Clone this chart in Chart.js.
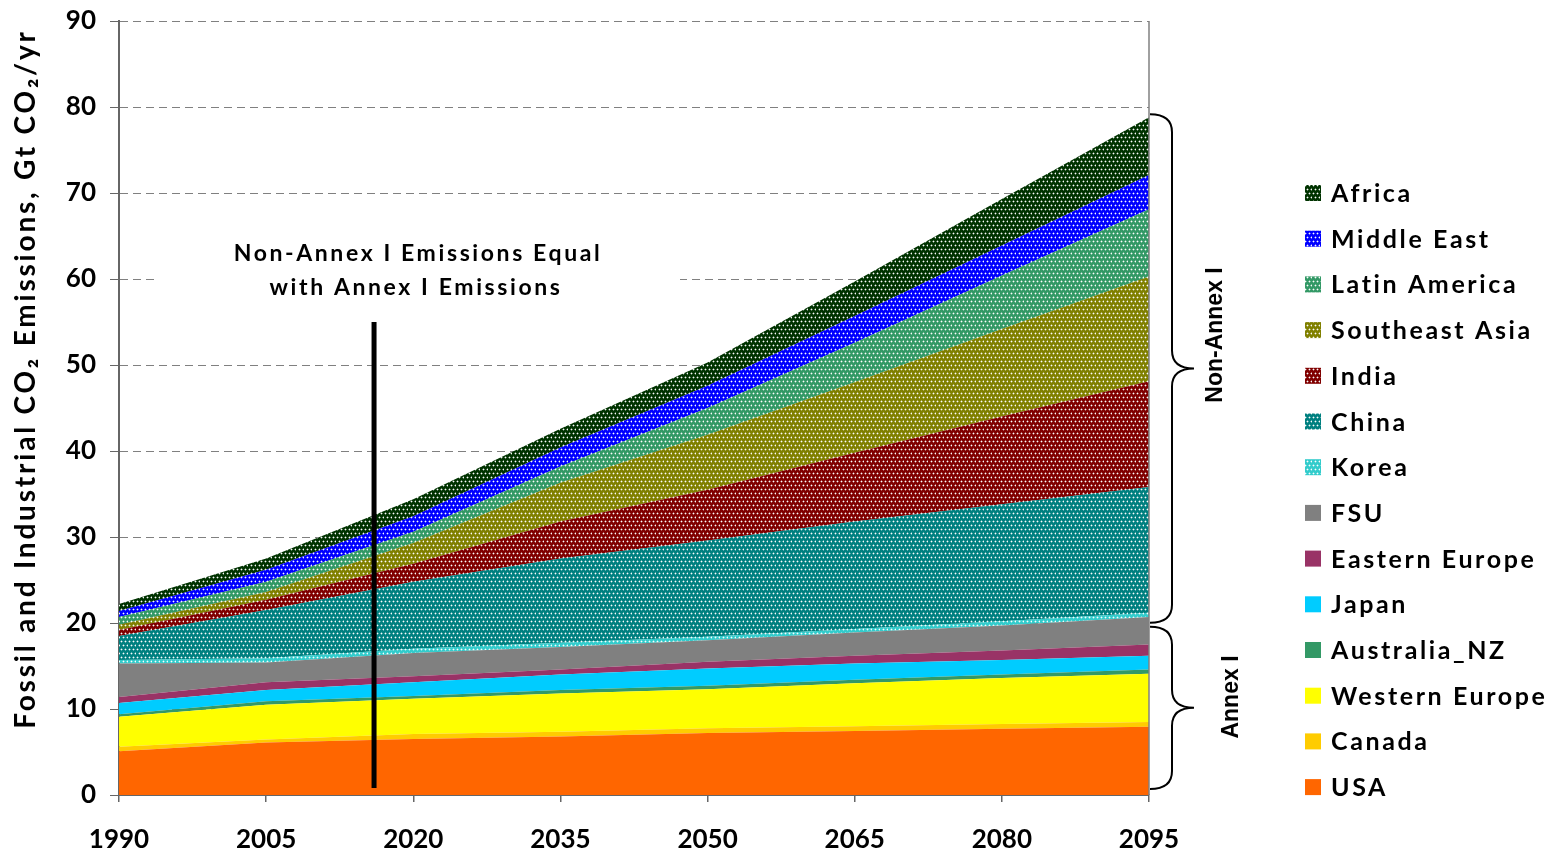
<!DOCTYPE html>
<html><head><meta charset="utf-8">
<script src="https://cdn.jsdelivr.net/npm/chart.js@4.4.1/dist/chart.umd.min.js"></script>
<style>html,body{margin:0;padding:0;background:#fff;overflow:hidden}#wrap{width:1556px;height:855px}</style>
</head><body><div id="wrap"><canvas id="c" width="1556" height="855"></canvas></div>
<script>
// ---------- DATA ----------
const years = [1990, 2005, 2020, 2035, 2050, 2065, 2080, 2095];
const seriesNames = ['USA','Canada','Western Europe','Australia_NZ','Japan','Eastern Europe','FSU','Korea','China','India','Southeast Asia','Latin America','Middle East','Africa'];
const usa          = [5.1, 6.1, 6.5, 6.8, 7.2, 7.45, 7.7, 7.95];
const canada       = [0.5, 0.35, 0.6, 0.55, 0.55, 0.55, 0.55, 0.55];
const westernEurope= [3.5, 4.05, 4.1, 4.45, 4.55, 5.0, 5.35, 5.6];
const australiaNZ  = [0.3, 0.4, 0.3, 0.4, 0.4, 0.4, 0.4, 0.5];
const japan        = [1.3, 1.3, 1.6, 1.8, 2.0, 1.9, 1.7, 1.6];
const easternEurope= [0.7, 0.9, 0.7, 0.6, 0.8, 0.9, 1.1, 1.3];
const fsu          = [3.9, 2.3, 2.7, 2.6, 2.5, 2.7, 2.9, 3.2];
const korea        = [0.4, 0.5, 0.5, 0.5, 0.4, 0.4, 0.5, 0.5];
const china        = [2.8, 5.6, 7.8, 9.8, 11.2, 12.5, 13.6, 14.6];
const india        = [0.7, 1.2, 2.1, 4.3, 5.9, 8.0, 10.2, 12.3];
const southeastAsia= [0.6, 0.9, 2.4, 4.5, 6.4, 8.2, 10.2, 12.2];
const latinAmerica = [0.9, 1.2, 1.3, 1.9, 3.1, 4.6, 6.2, 7.8];
const middleEast   = [0.7, 1.4, 1.8, 2.2, 2.6, 3.1, 3.5, 4.0];
const africa       = [0.8, 1.3, 2.0, 2.2, 2.7, 4.0, 5.4, 6.7];
const seriesValues = [usa, canada, westernEurope, australiaNZ, japan, easternEurope, fsu, korea, china, india, southeastAsia, latinAmerica, middleEast, africa];
const yTickValues = [0, 10, 20, 30, 40, 50, 60, 70, 80, 90];
const xTickValues = [1990, 2005, 2020, 2035, 2050, 2065, 2080, 2095];
const equalYear = 2016;          // year of the marker line
const markerTop = 55, markerBottom = 0.8;
const annotationLines = ['Non-Annex I Emissions Equal', 'with Annex I Emissions'];
const yTitle = 'Fossil and Industrial CO\u2082 Emissions, Gt CO\u2082/yr';

// ---------- STYLE ----------
const colors = ['#FF6600','#FFCC00','#FFFF00','#339966','#00CCFF','#993366','#808080','#33CCCC','#008080','#800000','#808000','#339966','#0000FF','#003300'];
const dotted = [false,false,false,false,false,false,false,true,true,true,true,true,true,true];
const FONT = "Lato, 'DejaVu Sans', sans-serif";

const canvas = document.getElementById('c');
const ctx = canvas.getContext('2d');
function dotPattern(color){
  const t = document.createElement('canvas'); t.width = 8; t.height = 8;
  const g = t.getContext('2d');
  g.fillStyle = color; g.fillRect(0,0,8,8);
  const pts = [[1,1],[5,1],[3,5],[7,5]];
  g.fillStyle = 'rgba(255,255,255,0.35)';
  pts.forEach(([x,y])=>{g.fillRect(x-1,y,3,1);g.fillRect(x,y-1,1,3);});
  g.fillStyle = 'rgba(255,255,255,0.95)';
  pts.forEach(([x,y])=>g.fillRect(x,y,1,1));
  return ctx.createPattern(t,'repeat');
}
const fills = colors.map((c,i)=> dotted[i] ? dotPattern(c) : c);

const datasets = seriesNames.map((name,i)=>({
  label: name,
  data: years.map((yr,k)=>({x: yr, y: seriesValues[i][k]})),
  backgroundColor: fills[i],
  borderColor: 'rgba(0,0,0,0)',
  borderWidth: 0,
  pointRadius: 0,
  fill: i === 0 ? 'origin' : '-1',
  tension: 0
}));

function cum(k, upto){ let s=0; for(let i=0;i<=upto;i++) s+=seriesValues[i][k]; return s; }

const overlay = {
  id: 'overlay',
  beforeDatasetsDraw(chart){
    const {ctx} = chart;
    ctx.save(); ctx.fillStyle = '#fff'; ctx.fillRect(156, 228, 524, 84); ctx.restore();
  },
  afterDraw(chart){
    const {ctx, chartArea:a, scales:{x, y}} = chart;
    ctx.save();
    // right border
    ctx.strokeStyle = '#808080'; ctx.lineWidth = 1.5;
    ctx.beginPath(); ctx.moveTo(a.right, a.top); ctx.lineTo(a.right, a.bottom); ctx.stroke();
    // annotation text
    ctx.fillStyle = '#000'; ctx.textAlign = 'center'; ctx.textBaseline = 'middle';
    ctx.font = 'bold 23px ' + FONT; ctx.letterSpacing = '2.6px';
    ctx.fillText(annotationLines[0], 418, 254);
    ctx.fillText(annotationLines[1], 416, 288);
    ctx.letterSpacing = '0px';
    // marker line
    ctx.strokeStyle = '#000'; ctx.lineWidth = 5;
    const mx = x.getPixelForValue(equalYear);
    ctx.beginPath(); ctx.moveTo(mx, y.getPixelForValue(markerTop)); ctx.lineTo(mx, y.getPixelForValue(markerBottom)); ctx.stroke();
    // braces
    const last = years.length - 1;
    const totalTop = y.getPixelForValue(cum(last, seriesValues.length-1));
    const annexTop = y.getPixelForValue(cum(last, 7));
    const annexBot = y.getPixelForValue(0.7);
    function brace(x0, y1, y2, w){
      const ym = (y1+y2)/2, r = 18, xm = x0 + w/2;
      ctx.beginPath();
      ctx.moveTo(x0, y1);
      ctx.quadraticCurveTo(xm, y1, xm, y1 + r);
      ctx.lineTo(xm, ym - r);
      ctx.quadraticCurveTo(xm, ym, x0 + w, ym);
      ctx.quadraticCurveTo(xm, ym, xm, ym + r);
      ctx.lineTo(xm, y2 - r);
      ctx.quadraticCurveTo(xm, y2, x0, y2);
      ctx.stroke();
    }
    ctx.strokeStyle = '#000'; ctx.lineWidth = 2;
    brace(a.right + 1, totalTop - 3, annexTop + 10, 44);
    brace(a.right + 1, annexTop + 14, annexBot, 44);
    // brace labels
    ctx.font = "bold 23px 'Liberation Sans', Arial, sans-serif";
    ctx.textAlign = 'center'; ctx.textBaseline = 'middle';
    ctx.save(); ctx.translate(1216, 335); ctx.rotate(-Math.PI/2); ctx.fillText('Non-Annex I', 0, 0); ctx.restore();
    ctx.save(); ctx.translate(1232, 697); ctx.rotate(-Math.PI/2); ctx.fillText('Annex I', 0, 0); ctx.restore();
    // y title
    ctx.font = 'bold 28px ' + FONT; ctx.letterSpacing = '2.8px';
    ctx.save(); ctx.translate(26, 379); ctx.rotate(-Math.PI/2); ctx.fillText(yTitle, 0, 0); ctx.restore();
    // legend
    ctx.font = 'bold 25px ' + FONT; ctx.letterSpacing = '2.6px';
    ctx.textAlign = 'left';
    const n = seriesNames.length;
    for (let k = 0; k < n; k++){
      const i = n - 1 - k;
      const yc = 193 + k * 45.7;
      ctx.fillStyle = fills[i];
      ctx.fillRect(1305, yc - 8, 16, 16);
      ctx.fillStyle = '#000';
      ctx.fillText(seriesNames[i], 1331, yc + 1);
    }
    ctx.restore();
  }
};

new Chart(canvas, {
  type: 'line',
  data: { datasets },
  options: {
    responsive: false, animation: false, devicePixelRatio: 1,
    layout: { padding: { left: 0, right: 407, top: 21, bottom: 0 } },
    plugins: { legend: { display: false }, tooltip: { enabled: false } },
    elements: { line: { borderWidth: 0 } },
    scales: {
      x: {
        type: 'linear', min: 1990, max: 2095,
        afterBuildTicks: s => { s.ticks = xTickValues.map(v => ({value: v})); },
        ticks: { callback: v => String(v), color: '#000', font: { family: FONT, size: 26, weight: 'bold' }, padding: 22, maxRotation: 0 },
        grid: { drawOnChartArea: false, color: '#666', tickLength: 7, lineWidth: 1.5 },
        border: { color: '#666', width: 2 },
        afterFit: s => { s.height = 60; s.paddingLeft = 0; s.paddingRight = 0; }
      },
      y: {
        stacked: true, min: 0, max: 90,
        afterBuildTicks: s => { s.ticks = yTickValues.map(v => ({value: v})); },
        ticks: { color: '#000', font: { family: FONT, size: 26, weight: 'bold' }, padding: 14 },
        grid: { color: (c) => c.tick && c.tick.value === 0 ? 'rgba(0,0,0,0)' : '#808080', lineWidth: 1, tickLength: 9, tickColor: '#666', drawTicks: true },
        border: { color: '#666', width: 2, dash: [8, 5] },
        afterFit: s => { s.width = 119; s.paddingTop = 0; s.paddingBottom = 0; }
      }
    }
  },
  plugins: [overlay]
});
</script></body></html>
